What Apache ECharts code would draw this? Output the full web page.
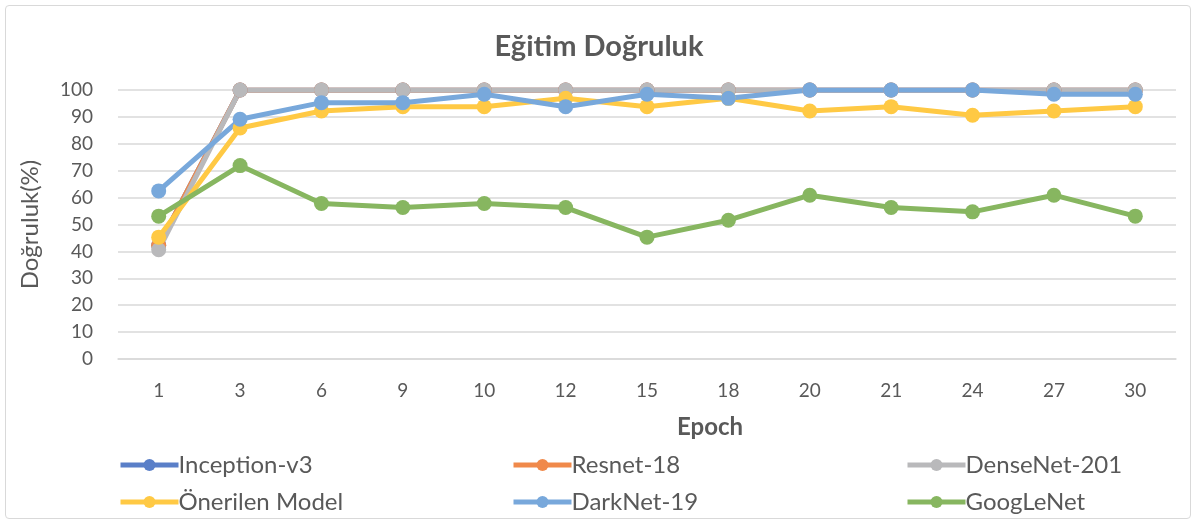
<!DOCTYPE html>
<html>
<head>
<meta charset="utf-8">
<script src="https://cdn.jsdelivr.net/npm/echarts@6/dist/echarts.min.js"></script>
<style>
  html, body { margin: 0; padding: 0; background: #ffffff; }
  #frame { position: absolute; left: 5px; top: 5px; width: 1186px; height: 514px;
           border: 1px solid #d9d9d9; border-radius: 4px; box-sizing: border-box; }
  #chart { position: absolute; left: 0; top: 0; width: 1198px; height: 525px; }
</style>
</head>
<body>
<div id="frame"></div>
<div id="chart"></div>
<script>
// Epoch checkpoints (category axis)
const epochs = ['1', '3', '6', '9', '10', '12', '15', '18', '20', '21', '24', '27', '30'];

// Training accuracy (%) per model
const inceptionV3 = [42.2, 100, 100, 100, 100, 100, 100, 100, 100, 100, 100, 100, 100];
const resnet18    = [42.2, 100, 100, 100, 100, 100, 100, 100, 100, 100, 100, 100, 100];
const densenet201 = [40.6, 100, 100, 100, 100, 100, 100, 100, 100, 100, 100, 100, 100];
const onerilen    = [45.3, 85.9, 92.2, 93.8, 93.8, 96.9, 93.8, 96.9, 92.2, 93.8, 90.6, 92.2, 93.8];
const darknet19   = [62.5, 89.1, 95.3, 95.3, 98.4, 93.8, 98.4, 96.9, 100, 100, 100, 98.4, 98.4];
const googlenet   = [53.1, 71.9, 57.8, 56.3, 57.8, 56.3, 45.3, 51.6, 60.9, 56.3, 54.7, 60.9, 53.1];

const seriesNames = ['Inception-v3', 'Resnet-18', 'DenseNet-201', 'Önerilen Model', 'DarkNet-19', 'GoogLeNet'];
const seriesData  = [inceptionV3, resnet18, densenet201, onerilen, darknet19, googlenet];
const colors      = ['#5a7fc8', '#f0894a', '#b9b9bb', '#ffc944', '#78a8db', '#87b660'];

const FONT = 'Lato, "Open Sans", sans-serif';
const TXT = '#595959';

// One legend block per series, laid out as a 3 x 2 grid
const legendPos = [
  [113, 448], [506, 448], [900, 448],
  [113, 485], [506, 485], [900, 485]
];
const legends = seriesNames.map((name, i) => ({
  data: [name],
  left: legendPos[i][0],
  top: legendPos[i][1],
  itemWidth: 58,
  itemHeight: 15,
  itemGap: 0,
  lineStyle: { width: 5 },
  textStyle: { color: TXT, fontSize: 24, fontFamily: FONT, padding: [0, 0, 0, -5] }
}));

const chart = echarts.init(document.getElementById('chart'), null, { renderer: 'canvas' });
chart.setOption({
  animation: false,
  color: colors,
  title: {
    text: 'Eğitim Doğruluk',
    left: 'center',
    top: 27,
    padding: [5, 5, 5, 17],
    textStyle: { color: TXT, fontSize: 29, fontWeight: 'bold', fontFamily: FONT }
  },
  legend: legends,
  grid: { left: 118, right: 22, top: 90, bottom: 166, containLabel: false },
  xAxis: {
    type: 'category',
    data: epochs,
    boundaryGap: true,
    name: 'Epoch',
    nameLocation: 'middle',
    nameGap: 56,
    nameTextStyle: { color: TXT, fontSize: 24, fontWeight: 'bold', fontFamily: FONT,
                     padding: [0, 0, 0, 126] },
    axisLine: { lineStyle: { color: '#d9d9d9', width: 1.5 } },
    axisTick: { show: false },
    axisLabel: { color: TXT, fontSize: 19, fontFamily: FONT, margin: 22 }
  },
  yAxis: {
    type: 'value',
    min: 0,
    max: 100,
    interval: 10,
    name: 'Doğruluk(%)',
    nameLocation: 'middle',
    nameGap: 76,
    nameTextStyle: { color: TXT, fontSize: 24, fontFamily: FONT },
    axisLine: { show: false },
    axisTick: { show: false },
    axisLabel: { color: TXT, fontSize: 19, fontFamily: FONT, margin: 25 },
    splitLine: { lineStyle: { color: '#d9d9d9', width: 1.5 } }
  },
  series: seriesNames.map((name, i) => ({
    name: name,
    type: 'line',
    data: seriesData[i],
    symbol: 'circle',
    symbolSize: 15,
    lineStyle: { width: 5, color: colors[i] },
    itemStyle: { color: colors[i] },
    emphasis: { disabled: true }
  }))
});
</script>
</body>
</html>
